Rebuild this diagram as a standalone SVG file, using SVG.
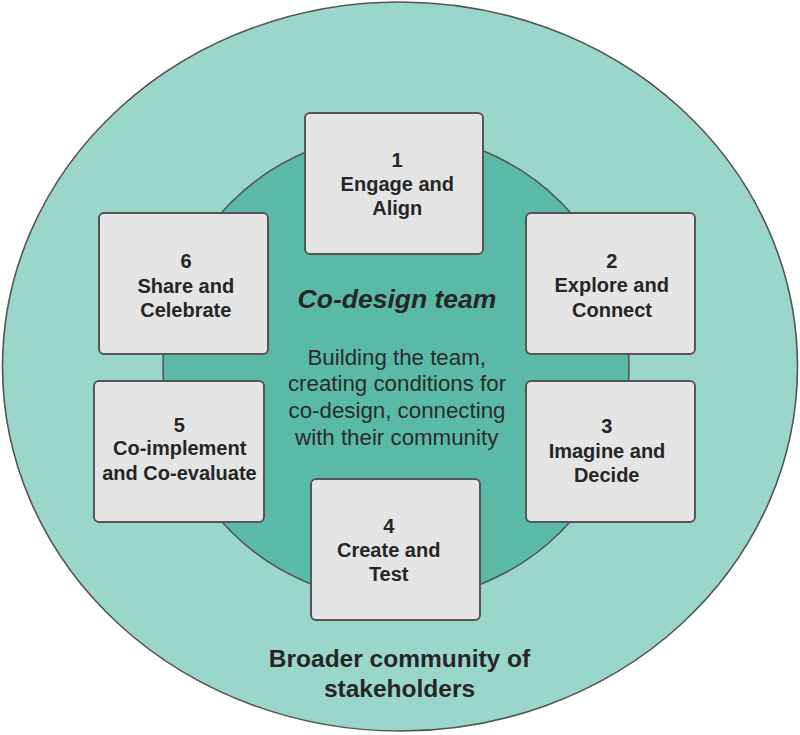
<svg xmlns="http://www.w3.org/2000/svg" width="800" height="735" viewBox="0 0 800 735">
<style>
.box{fill:#e5e5e5;stroke:#555;stroke-width:2}
.bt{font-family:"Liberation Sans",Arial,sans-serif;font-weight:bold;font-size:20px;fill:#262626;text-anchor:middle}
.big{font-family:"Liberation Sans",Arial,sans-serif;font-weight:bold;font-size:24.5px;fill:#262626;text-anchor:middle}
.title{font-family:"Liberation Sans",Arial,sans-serif;font-weight:bold;font-style:italic;font-size:26.5px;fill:#262626;text-anchor:middle}
.body{font-family:"Liberation Sans",Arial,sans-serif;font-size:22.3px;fill:#2b2b2b;text-anchor:middle}
</style>
<rect width="800" height="735" fill="#fff"/>
<g id="outer">
<ellipse cx="400" cy="366.5" rx="397.5" ry="364.5" fill="#9bd6cb" stroke="#555" stroke-width="1.6"/>
<text class="big" x="399.5" y="667.3">Broader community of</text>
<text class="big" x="399.5" y="697.3">stakeholders</text>
</g>
<g id="inner">
<circle cx="396" cy="367" r="233" fill="#5bbaa7" stroke="#555" stroke-width="1.6"/>
<text class="title" x="397" y="308.3">Co-design team</text>
<text class="body" x="396.7" y="365">Building the team,</text>
<text class="body" x="397" y="391">creating conditions for</text>
<text class="body" x="397" y="418.3">co-design, connecting</text>
<text class="body" x="396.7" y="445">with their community</text>
</g>
<g id="connectors"/>
<g id="node1">
<rect class="box" x="305" y="113" width="178" height="141" rx="5"/>
<text class="bt" x="397" y="166.5">1</text>
<text class="bt" x="397.3" y="191">Engage and</text>
<text class="bt" x="397.2" y="215">Align</text>
</g>
<g id="node2">
<rect class="box" x="526" y="213" width="169" height="141" rx="5"/>
<text class="bt" x="611.8" y="268.3">2</text>
<text class="bt" x="611.7" y="292.3">Explore and</text>
<text class="bt" x="612" y="316.7">Connect</text>
</g>
<g id="node3">
<rect class="box" x="526" y="381" width="169" height="141" rx="5"/>
<text class="bt" x="606.7" y="433.3">3</text>
<text class="bt" x="607" y="458.3">Imagine and</text>
<text class="bt" x="606.7" y="482.3">Decide</text>
</g>
<g id="node4">
<rect class="box" x="311" y="479" width="169" height="141" rx="5"/>
<text class="bt" x="388.7" y="532.7">4</text>
<text class="bt" x="388.7" y="557.3">Create and</text>
<text class="bt" x="388.7" y="580.7">Test</text>
</g>
<g id="node5">
<rect class="box" x="94" y="381" width="170" height="141" rx="5"/>
<text class="bt" x="179.3" y="431.7">5</text>
<text class="bt" x="179.7" y="455">Co-implement</text>
<text class="bt" x="179.5" y="480">and Co-evaluate</text>
</g>
<g id="node6">
<rect class="box" x="99" y="213" width="169" height="141" rx="5"/>
<text class="bt" x="186" y="268.3">6</text>
<text class="bt" x="185.8" y="292.7">Share and</text>
<text class="bt" x="185.8" y="317">Celebrate</text>
</g>
</svg>
